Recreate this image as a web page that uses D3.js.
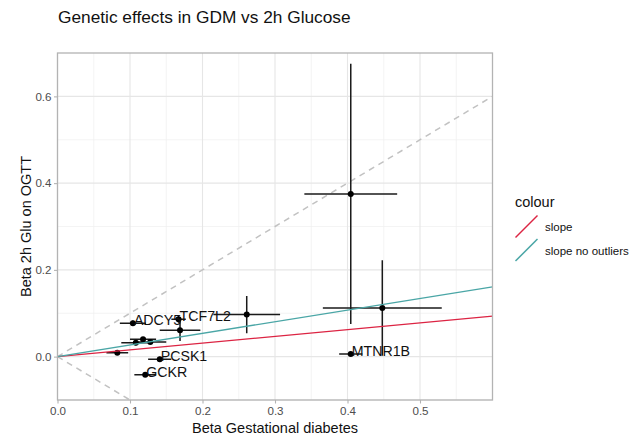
<!DOCTYPE html>
<html>
<head>
<meta charset="utf-8">
<script src="https://cdn.jsdelivr.net/npm/d3@7"></script>
<style>
  html, body { margin: 0; padding: 0; background: #fff; }
  svg { display: block; font-family: "Liberation Sans", Arial, Helvetica, sans-serif; }
</style>
</head>
<body>
<svg id="chart" width="639" height="438"></svg>
<script>
// Per-variant effect estimates: GDM beta (x) against 2h glucose beta (y)
const genes   = ["", "", "MTNR1B", "", "TCF7L2", "", "ADCY5", "", "", "", "", "PCSK1", "GCKR"];
const betaGDM = [0.4045, 0.448, 0.4045, 0.261, 0.167, 0.169, 0.104, 0.108, 0.118, 0.128, 0.0825, 0.141, 0.121];
const errGDM  = [0.064, 0.082, 0.016, 0.046, 0.010, 0.028, 0.018, 0.020, 0.018, 0.022, 0.015, 0.016, 0.015];
const betaGlu = [0.375, 0.112, 0.006, 0.097, 0.086, 0.061, 0.077, 0.032, 0.040, 0.034, 0.009, -0.006, -0.042];
const errGlu  = [0.300, 0.110, 0.004, 0.043, 0.008, 0.025, 0.006, 0.006, 0.005, 0.005, 0.005, 0.006, 0.005];

// Regression slopes through the origin
const slopeNames  = ["slope", "slope no outliers"];
const slopeValues = [0.1555, 0.268];
const slopeColors = ["#dc2443", "#4aa6a6"];

// Reference lines y = x and y = -x
const refSlopes = [1, -1];

const xTicks = [0, 0.1, 0.2, 0.3, 0.4, 0.5];
const xMinor = [0.05, 0.15, 0.25, 0.35, 0.45, 0.55];
const yTicks = [0, 0.2, 0.4, 0.6];
const yMinor = [-0.1, 0.1, 0.3, 0.5];

const svg = d3.select("#chart");
const P = { left: 57.5, right: 492.5, top: 53, bottom: 400 };

const x = d3.scaleLinear().domain([0, 0.6]).range([P.left, P.right]);
const y = d3.scaleLinear().domain([-0.1, 0.7]).range([P.bottom, P.top]);

const data = genes.map((g, i) => ({
  gene: g, x: betaGDM[i], xe: errGDM[i], y: betaGlu[i], ye: errGlu[i]
}));

svg.append("defs").append("clipPath").attr("id", "panel-clip")
  .append("rect")
  .attr("x", P.left).attr("y", P.top)
  .attr("width", P.right - P.left).attr("height", P.bottom - P.top);

// Grid
const grid = svg.append("g");
grid.selectAll(".xminor").data(xMinor).join("line")
  .attr("x1", d => x(d)).attr("x2", d => x(d))
  .attr("y1", P.top).attr("y2", P.bottom)
  .attr("stroke", "#efefef").attr("stroke-width", 0.7);
grid.selectAll(".yminor").data(yMinor).join("line")
  .attr("y1", d => y(d)).attr("y2", d => y(d))
  .attr("x1", P.left).attr("x2", P.right)
  .attr("stroke", "#efefef").attr("stroke-width", 0.7);
grid.selectAll(".xmajor").data(xTicks).join("line")
  .attr("x1", d => x(d)).attr("x2", d => x(d))
  .attr("y1", P.top).attr("y2", P.bottom)
  .attr("stroke", "#e6e6e6").attr("stroke-width", 1.1);
grid.selectAll(".ymajor").data(yTicks).join("line")
  .attr("y1", d => y(d)).attr("y2", d => y(d))
  .attr("x1", P.left).attr("x2", P.right)
  .attr("stroke", "#e6e6e6").attr("stroke-width", 1.1);

const plot = svg.append("g").attr("clip-path", "url(#panel-clip)");

// Dashed identity lines
plot.selectAll(".ref").data(refSlopes).join("line")
  .attr("x1", x(0)).attr("y1", y(0))
  .attr("x2", x(0.6)).attr("y2", d => y(0.6 * d))
  .attr("stroke", "#c2c2c2").attr("stroke-width", 1.5)
  .attr("stroke-dasharray", "6,5");

// Error bars
plot.selectAll(".eh").data(data).join("line")
  .attr("x1", d => x(d.x - d.xe)).attr("x2", d => x(d.x + d.xe))
  .attr("y1", d => y(d.y)).attr("y2", d => y(d.y))
  .attr("stroke", "#1a1a1a").attr("stroke-width", 1.5);
plot.selectAll(".ev").data(data).join("line")
  .attr("x1", d => x(d.x)).attr("x2", d => x(d.x))
  .attr("y1", d => y(d.y - d.ye)).attr("y2", d => y(d.y + d.ye))
  .attr("stroke", "#1a1a1a").attr("stroke-width", 1.5);

// Points
plot.selectAll(".pt").data(data).join("circle")
  .attr("cx", d => x(d.x)).attr("cy", d => y(d.y))
  .attr("r", 3).attr("fill", "#000");

// Slope lines
plot.selectAll(".slope").data(slopeValues).join("line")
  .attr("x1", x(0)).attr("y1", y(0))
  .attr("x2", x(0.6)).attr("y2", d => y(0.6 * d))
  .attr("stroke", (d, i) => slopeColors[i]).attr("stroke-width", 1.4);

// Gene labels
plot.selectAll(".lab").data(data.filter(d => d.gene)).join("text")
  .attr("x", d => x(d.x) + 1).attr("y", d => y(d.y) - 3)
  .attr("dominant-baseline", "central")
  .attr("font-size", 14.2).attr("fill", "#111")
  .text(d => d.gene);

// Panel border
svg.append("rect")
  .attr("x", P.left).attr("y", P.top)
  .attr("width", P.right - P.left).attr("height", P.bottom - P.top)
  .attr("fill", "none").attr("stroke", "#b3b3b3").attr("stroke-width", 1.3);

// Axes
const fmt = d3.format(".1f");
const xAxis = svg.append("g").attr("transform", `translate(0,${P.bottom})`)
  .call(d3.axisBottom(x).tickValues(xTicks).tickFormat(fmt).tickSize(3.5).tickPadding(3));
const yAxis = svg.append("g").attr("transform", `translate(${P.left},0)`)
  .call(d3.axisLeft(y).tickValues(yTicks).tickFormat(fmt).tickSize(3.5).tickPadding(2.5));
[xAxis, yAxis].forEach(a => {
  a.select(".domain").remove();
  a.selectAll(".tick line").attr("stroke", "#b3b3b3").attr("stroke-width", 1.1);
  a.selectAll(".tick text").attr("fill", "#4d4d4d").attr("font-size", 11.6)
    .attr("font-family", "'Liberation Sans', Arial, sans-serif");
});

// Titles
svg.append("text").attr("x", 58).attr("y", 23)
  .attr("font-size", 17.3).attr("fill", "#111")
  .text("Genetic effects in GDM vs 2h Glucose");
svg.append("text").attr("x", (P.left + P.right) / 2).attr("y", 433)
  .attr("text-anchor", "middle").attr("font-size", 14.5).attr("fill", "#111")
  .text("Beta Gestational diabetes");
svg.append("text")
  .attr("transform", `translate(31,${(P.top + P.bottom) / 2}) rotate(-90)`)
  .attr("text-anchor", "middle").attr("font-size", 14.5).attr("fill", "#111")
  .text("Beta 2h Glu on OGTT");

// Legend
const lg = svg.append("g").attr("transform", "translate(515,207)");
lg.append("text").attr("x", 0).attr("y", 0)
  .attr("font-size", 14.5).attr("fill", "#111").text("colour");
const keys = lg.selectAll(".key").data(slopeNames).join("g")
  .attr("transform", (d, i) => `translate(0,${8 + i * 23.5})`);
keys.append("line")
  .attr("x1", 0.5).attr("y1", 22.5).attr("x2", 22.5).attr("y2", 0.5)
  .attr("stroke", (d, i) => slopeColors[i]).attr("stroke-width", 1.5);
keys.append("text").attr("x", 30).attr("y", 12)
  .attr("dominant-baseline", "central")
  .attr("font-size", 11.5).attr("fill", "#111")
  .text(d => d);
</script>
</body>
</html>
